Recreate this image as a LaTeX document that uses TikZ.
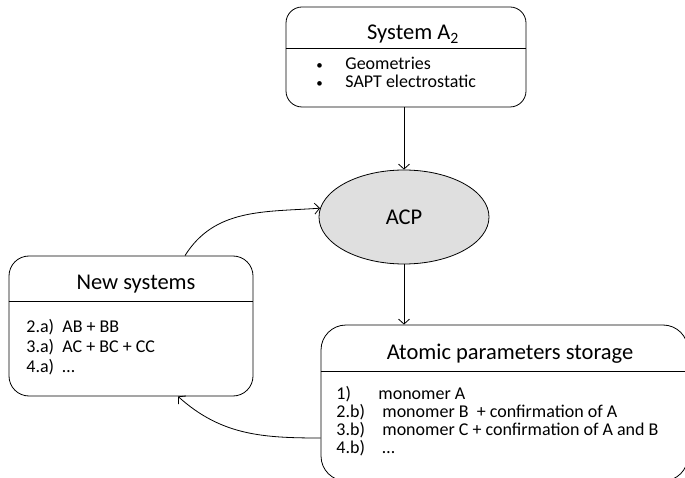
\documentclass[tikz,border=0pt]{standalone}
\usepackage{fontspec}
\setmainfont{Carlito}
\usetikzlibrary{arrows.meta,shapes.geometric}
\newcommand{\smallbul}{\raisebox{0.5pt}{\fontsize{13}{13}\selectfont •}}
\begin{document}
\begin{tikzpicture}[x=1pt,y=-1pt,line width=0.8pt,
  box/.style={draw=black,fill=white,inner sep=0pt,rounded corners=#1},
  ttl/.style={anchor=base,inner sep=0pt,font=\fontsize{22.5}{26}\selectfont},
  item/.style={anchor=base west,inner sep=0pt,font=\fontsize{18}{20}\selectfont},
  arr/.style={-{Straight Barb[length=5pt,width=11pt]}}]
\useasboundingbox (0,0) rectangle (685,478);
\clip (0,0) rectangle (685,478);
% boxes
\node[box=16pt,minimum width=240pt,minimum height=100pt] (sys) at (406,57) {};
\draw ([yshift=-42pt]sys.north west) -- ([yshift=-42pt]sys.north east);
\node[box=20pt,minimum width=244pt,minimum height=140pt] (new) at (131,326) {};
\draw ([yshift=-46pt]new.north west) -- ([yshift=-46pt]new.north east);
\node[box=25pt,minimum width=367pt,minimum height=156pt] (store) at (504.5,403) {};
\draw ([yshift=-47pt]store.north west) -- ([yshift=-47pt]store.north east);
\node[ellipse,draw=black,fill=gray!25,minimum width=170pt,minimum height=94pt,inner sep=0pt,
  font=\fontsize{22.5}{26}\selectfont] (acp) at (404,217) {ACP};
% titles
\node[ttl] (sysT) at (413,40) {System A\textsubscript{2}};
\node[ttl] (newT) at (136,289) {New systems};
\node[ttl] (storeT) at (510,359) {Atomic parameters storage};
% items
\node[item] (t1) at (316,70) {\makebox[29pt][l]{\smallbul}Geometries};
\node[item] (t2) at (316,88) {\makebox[29pt][l]{\smallbul}SAPT electrostatic};
\node[item] (n1) at (26,332) {\makebox[36pt][l]{2.a)}AB + BB};
\node[item] (n2) at (26,352) {\makebox[36pt][l]{3.a)}AC + BC + CC};
\node[item] (n3) at (26,372) {\makebox[36pt][l]{4.a)}…};
\node[item] (s1) at (336,399) {\makebox[42pt][l]{1)}monomer A};
\node[item] (s2) at (336,417) {\makebox[46pt][l]{2.b)}monomer B~ + confirmation of A};
\node[item] (s3) at (336,435) {\makebox[46pt][l]{3.b)}monomer C + confirmation of A and B};
\node[item] (s4) at (336,453) {\makebox[46pt][l]{4.b)}…};
% connectors
\draw[arr] (acp.north |- sys.south) -- (acp.north);
\draw[arr] (acp.south) -- (acp.south |- store.north);
\draw[arr] ([xshift=54pt]new.north) to[out=58,in=184] (acp.174);
\draw[arr] ([yshift=-35pt]store.west) to[out=180,in=-42] ([xshift=47pt]new.south);
\end{tikzpicture}
\end{document}
